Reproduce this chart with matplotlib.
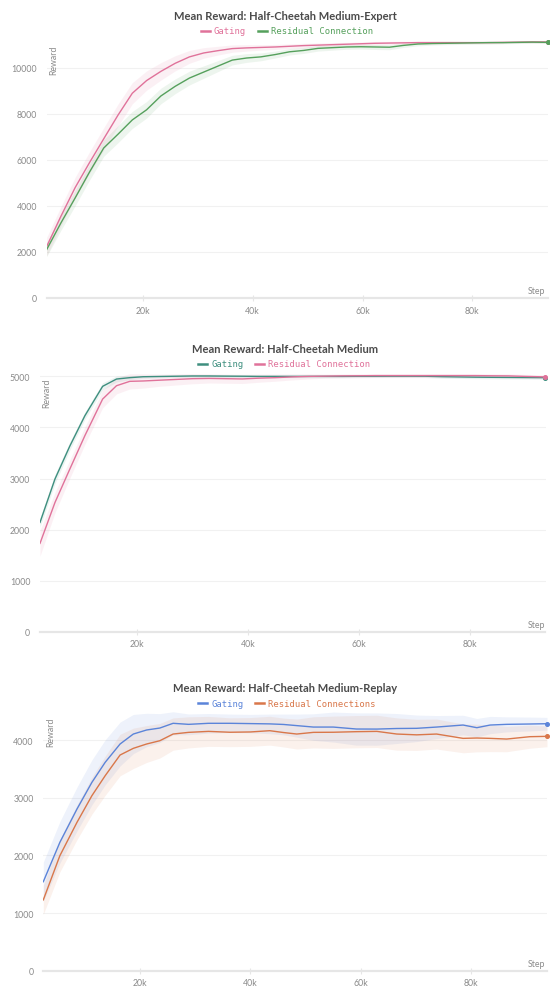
"""
Half-Cheetah reward curves: gating vs residual connection (3 panels).
"""
import matplotlib
matplotlib.use('Agg')
import matplotlib.pyplot as plt
from matplotlib.lines import Line2D
from matplotlib.ticker import FuncFormatter
import numpy as np

W, H = 550, 987

# --- Panel 1: Medium-Expert ---
me_steps = [2500, 5100, 7700, 10300, 12900, 15500, 18100, 20700, 23300, 25900,
            28500, 31100, 33700, 36300, 38900, 41500, 44100, 46700, 49300, 51900,
            54500, 57100, 59700, 62300, 64900, 67500, 70100, 72700, 75300, 77900,
            80500, 83100, 85700, 88300, 90900, 93700]
me_gating = [2230, 3550, 4800, 5880, 6920, 7950, 8900, 9450, 9850, 10200,
             10480, 10650, 10750, 10840, 10870, 10890, 10910, 10940, 10970, 10990,
             11010, 11030, 11050, 11070, 11080, 11090, 11100, 11100, 11100, 11100,
             11100, 11100, 11110, 11120, 11130, 11130]
me_gating_std = [400, 420, 450, 470, 480, 480, 460, 420, 380, 330,
                 280, 230, 190, 160, 140, 120, 110, 100, 100, 90,
                 90, 80, 80, 80, 70, 70, 60, 60, 60, 50,
                 50, 50, 50, 50, 50, 50]
me_resid = [2100, 3260, 4350, 5470, 6520, 7120, 7740, 8180, 8780, 9200,
            9560, 9820, 10080, 10340, 10430, 10480, 10580, 10700, 10760, 10850,
            10880, 10910, 10920, 10910, 10900, 10980, 11040, 11060, 11070, 11080,
            11090, 11100, 11100, 11110, 11120, 11110]
me_resid_std = [300, 320, 340, 350, 360, 370, 370, 360, 340, 320,
                300, 270, 240, 210, 190, 170, 150, 140, 130, 120,
                110, 100, 100, 110, 110, 90, 80, 70, 60, 60,
                60, 60, 50, 50, 50, 50]

# --- Panel 2: Medium ---
m_steps = [2500, 5200, 7900, 10600, 13800, 16300, 18700, 21100, 24000, 27000,
           30000, 33000, 36000, 39000, 42000, 45000, 48000, 51000, 54000, 57000,
           60000, 63000, 66000, 69000, 72000, 75000, 78000, 81000, 84000, 87000,
           90000, 93700]
m_gating = [2140, 2990, 3640, 4230, 4805, 4948, 4975, 4993, 4998, 5003,
            5008, 5008, 5005, 5003, 5000, 5000, 5000, 5000, 5000, 5000,
            5002, 5003, 5004, 5004, 5003, 4995, 4990, 4985, 4982, 4980,
            4978, 4975]
m_gating_std = [90, 90, 80, 70, 70, 60, 40, 30, 25, 25,
                25, 25, 25, 25, 25, 25, 25, 25, 25, 25,
                25, 25, 25, 25, 25, 30, 30, 30, 30, 30,
                30, 30]
m_resid = [1730, 2530, 3190, 3840, 4556, 4817, 4903, 4910, 4925, 4940,
           4955, 4960, 4955, 4950, 4965, 4975, 4990, 5000, 5005, 5010,
           5012, 5015, 5015, 5015, 5015, 5015, 5015, 5015, 5012, 5010,
           5000, 4990]
m_resid_std = [250, 200, 180, 170, 170, 160, 150, 140, 120, 110,
               100, 90, 90, 90, 80, 70, 60, 50, 40, 40,
               40, 40, 40, 40, 40, 40, 40, 40, 40, 40,
               40, 40]

# --- Panel 3: Medium-Replay ---
mr_steps = [2500, 5500, 8600, 11300, 13700, 16400, 18800, 21200, 23600, 26000,
            28800, 32400, 36300, 40000, 43500, 46000, 48400, 51400, 55000, 59200,
            62900, 66500, 70100, 73700, 78500, 81000, 83400, 86400, 90600, 93700]
mr_gating = [1543, 2226, 2804, 3266, 3613, 3931, 4104, 4174, 4208, 4290,
             4272, 4290, 4290, 4285, 4280, 4270, 4250, 4225, 4225, 4191,
             4190, 4200, 4203, 4225, 4260, 4214, 4260, 4272, 4278, 4283]
mr_gating_std = [340, 360, 380, 390, 390, 380, 340, 290, 250, 200,
                 180, 170, 160, 160, 170, 180, 200, 230, 260, 280,
                 280, 260, 230, 200, 170, 160, 150, 130, 120, 110]
mr_resid = [1228, 1994, 2573, 3035, 3381, 3740, 3856, 3931, 3988, 4104,
            4133, 4150, 4135, 4140, 4162, 4130, 4104, 4133, 4135, 4145,
            4150, 4104, 4090, 4104, 4029, 4035, 4029, 4017, 4058, 4064]
mr_resid_std = [250, 280, 300, 320, 340, 360, 350, 320, 300, 280,
                270, 260, 250, 250, 250, 250, 260, 270, 280, 280,
                280, 280, 270, 260, 250, 240, 230, 220, 200, 180]

x_ticks = [20000, 40000, 60000, 80000]

PINK = '#e0729a'
GREEN = '#55a05c'
TEAL = '#3e8f7f'
BLUE = '#5b84d9'
ORANGE = '#d9774a'

TICK_FONT = 'Lato'
MONO = 'DejaVu Sans Mono'


def rect(l, t, r, b):
    """pixel box -> figure fraction [left, bottom, width, height]"""
    return [l / W, 1 - b / H, (r - l) / W, (b - t) / H]


def draw_panel(fig, box, title, title_y, steps, series, y_max, y_ticks,
               legend_y, legend_x, label_x, label_top):
    ax = fig.add_axes(rect(*box))
    for name, mean, std, color in series:
        mean = np.array(mean, dtype=float)
        std = np.array(std, dtype=float)
        ax.fill_between(steps, mean - std, mean + std, color=color,
                        alpha=0.1, lw=0)
        ax.plot(steps, mean, color=color, lw=1.0)
        ax.plot(steps[-1], mean[-1], 'o', color=color, ms=2.6, clip_on=False)

    ax.set_xlim(steps[0], steps[-1])
    ax.set_ylim(0, y_max)
    ax.set_yticks(y_ticks)
    ax.set_xticks(x_ticks)
    ax.xaxis.set_major_formatter(FuncFormatter(lambda v, p: f'{int(v / 1000)}k'))
    ax.grid(axis='y', color='#f1f1f1', lw=0.8)
    ax.set_axisbelow(True)
    for s in ['top', 'right', 'left']:
        ax.spines[s].set_visible(False)
    ax.spines['bottom'].set_color('#e6e6e6')
    ax.spines['bottom'].set_linewidth(1.6)
    ax.tick_params(axis='y', length=0, pad=7, labelsize=6.3,
                   labelcolor='#8a8a8a')
    ax.tick_params(axis='x', length=4, direction='inout', color='#e6e6e6',
                   pad=3.5, labelsize=6.3, labelcolor='#8a8a8a')
    for lab in ax.get_xticklabels() + ax.get_yticklabels():
        lab.set_family(TICK_FONT)

    # title + custom legend
    fig.text(285 / W, 1 - title_y / H, title, ha='center', va='center',
             fontsize=8, fontweight='bold', color='#4a4a4a', family='Lato')
    for (name, mean, std, color), (x0, tx) in zip(series, legend_x):
        fig.add_artist(Line2D([x0 / W, (x0 + 9) / W],
                              [1 - legend_y / H, 1 - legend_y / H],
                              color=color, lw=1.8, transform=fig.transFigure))
        fig.text(tx / W, 1 - legend_y / H, name, ha='left', va='center',
                 fontsize=6.4, color=color, family=MONO)

    # axis captions
    fig.text(label_x / W, 1 - label_top / H, 'Reward', rotation=90,
             ha='center', va='top', fontsize=6.3, color='#8a8a8a',
             family=TICK_FONT)
    fig.text(545 / W, 1 - (box[3] - 7) / H, 'Step', ha='right', va='center',
             fontsize=6.3, color='#8a8a8a', family=TICK_FONT)
    return ax


fig = plt.figure(figsize=(W / 100, H / 100), dpi=100)
fig.patch.set_facecolor('white')

draw_panel(fig, (46.6, 39, 547.7, 299),
           'Mean Reward: Half-Cheetah Medium-Expert', 16.5, me_steps,
           [('Gating', me_gating, me_gating_std, PINK),
            ('Residual Connection', me_resid, me_resid_std, GREEN)],
           11300, [0, 2000, 4000, 6000, 8000, 10000],
           32, [(200.6, 213.6), (257.8, 270.8)], 54, 46)

draw_panel(fig, (40, 373.3, 545.5, 632.7),
           'Mean Reward: Half-Cheetah Medium', 349.3, m_steps,
           [('Gating', m_gating, m_gating_std, TEAL),
            ('Residual Connection', m_resid, m_resid_std, PINK)],
           5080, [0, 1000, 2000, 3000, 4000, 5000],
           364.7, [(198, 211.5), (255, 268)], 47, 379)

draw_panel(fig, (43.3, 712.2, 547, 971.7),
           'Mean Reward: Half-Cheetah Medium-Replay', 689, mr_steps,
           [('Gating', mr_gating, mr_gating_std, BLUE),
            ('Residual Connections', mr_resid, mr_resid_std, ORANGE)],
           4500, [0, 1000, 2000, 3000, 4000],
           704.3, [(198, 211.5), (255, 268)], 51, 718)

fig.savefig('out.png', dpi=100, facecolor='white')
plt.close(fig)
